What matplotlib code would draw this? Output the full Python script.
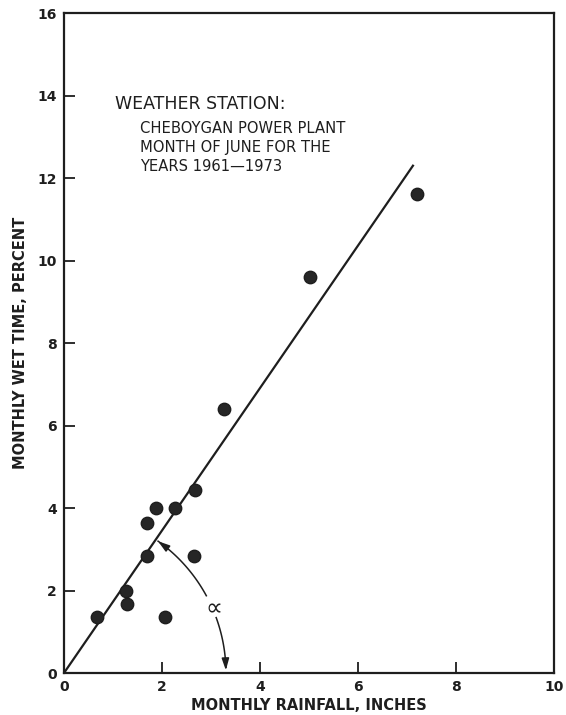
import numpy as np
import matplotlib
matplotlib.use("Agg")
from matplotlib import pyplot as plt

# June rainfall vs wet time, Cheboygan 1961-1973
rain_in = [0.67, 1.27, 1.28, 2.06, 1.69, 2.65, 1.69, 1.88, 2.27, 2.67, 3.27, 5.02, 7.2]
wet_pct = [1.35, 2.0, 1.68, 1.35, 2.84, 2.84, 3.63, 4.0, 4.0, 4.44, 6.4, 9.6, 11.62]

# fitted line through the origin
fit_x = [0.0, 7.12]
fit_y = [0.0, 12.3]

xticks = [0, 2, 4, 6, 8, 10]
yticks = [0, 2, 4, 6, 8, 10, 12, 14, 16]

plt.rcParams['font.family'] = ['DejaVu Sans']
ink = '#1e1e1e'

fig = plt.figure(figsize=(5.66, 7.15), dpi=100)
ax = fig.add_axes([0.113, 0.0587, 0.866, 0.923])
ax.set_xlim(0, 10)
ax.set_ylim(0, 16)

ax.plot(fit_x, fit_y, color=ink, lw=1.6, zorder=2)
ax.scatter(rain_in, wet_pct, s=80, color='#262626', edgecolors=ink, zorder=3)

# angle arc: circle around the origin in screen space, broken for the alpha
o = ax.transData.transform((0, 0))
inv = ax.transData.inverted()
lp = ax.transData.transform((fit_x[1], fit_y[1]))
a_line = np.degrees(np.arctan2(lp[1] - o[1], lp[0] - o[0]))
r = 162

def arc_pts(a0, a1):
    t = np.radians(np.linspace(a0, a1, 60))
    return inv.transform(np.column_stack([o[0] + r*np.cos(t), o[1] + r*np.sin(t)]))

top = arc_pts(28.5, a_line - 1.0)
low = arc_pts(20.0, 2.0)
ax.plot(top[:, 0], top[:, 1], color=ink, lw=1.1, zorder=2)
ax.plot(low[:, 0], low[:, 1], color=ink, lw=1.1, zorder=2)
tip1 = arc_pts(a_line, a_line)[0]
tip2 = arc_pts(0, 0)[0]
arw = dict(arrowstyle="-|>,head_length=0.7,head_width=0.22", color=ink, lw=1.1)
ax.annotate("", xy=tip1, xytext=top[-8], arrowprops=arw, zorder=2)
ax.annotate("", xy=tip2, xytext=low[-8], arrowprops=arw, zorder=2)
am = arc_pts(24.2, 24.2)[0]
ax.text(am[0], am[1], r'$\propto$', fontsize=17, ha='center', va='center', color=ink)

ax.text(1.04, 13.8, "WEATHER STATION:", fontsize=12.5, ha='left', va='center', color=ink)
ax.text(1.55, 13.2, "CHEBOYGAN POWER PLANT", fontsize=10.6, ha='left', va='center', color=ink)
ax.text(1.55, 12.73, "MONTH OF JUNE FOR THE", fontsize=10.6, ha='left', va='center', color=ink)
ax.text(1.55, 12.27, "YEARS 1961\u20141973", fontsize=10.6, ha='left', va='center', color=ink)

ax.set_xticks(xticks)
ax.set_yticks(yticks)
ax.tick_params(direction='in', length=8, width=1.3, colors=ink, labelsize=10, pad=5)
for lab in ax.get_xticklabels() + ax.get_yticklabels():
    lab.set_fontweight('bold')
for s in ax.spines.values():
    s.set_linewidth(1.6)
    s.set_color(ink)

ax.set_xlabel("MONTHLY RAINFALL, INCHES", fontsize=10.5, fontweight='bold', color=ink, labelpad=3)
ax.set_ylabel("MONTHLY WET TIME, PERCENT", fontsize=10.5, fontweight='bold', color=ink, labelpad=7)

fig.savefig("out.png", dpi=100)
